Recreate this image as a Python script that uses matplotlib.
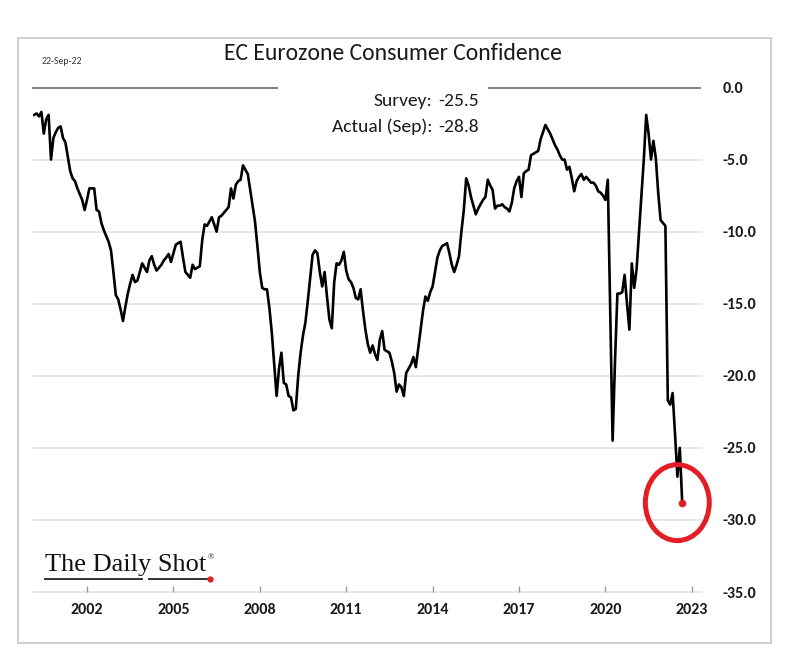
import matplotlib
matplotlib.use("Agg")
import matplotlib.pyplot as plt
from matplotlib.patches import Ellipse, Rectangle
from matplotlib.lines import Line2D
from matplotlib import font_manager
import numpy as np
import pandas as pd

# ---------------- data (monthly, Mar 2000 - Sep 2022) ----------------
start_month = "2000-03-01"
v2000 = [-1.9, -1.8, -2.0, -1.7, -3.2, -2.2, -1.9, -5.0, -3.5, -3.1]
v2001 = [-2.8, -2.7, -3.5, -3.8, -4.8, -5.8, -6.3, -6.5, -7.0, -7.4, -7.8, -8.5]
v2002 = [-7.8, -7.0, -7.0, -7.0, -8.5, -8.6, -9.4, -9.9, -10.3, -10.7, -11.3, -12.8]
v2003 = [-14.4, -14.7, -15.4, -16.2, -15.2, -14.3, -13.6, -13.0, -13.5, -13.4, -12.8, -12.2]
v2004 = [-12.5, -12.8, -12.0, -11.7, -12.3, -12.7, -12.5, -12.3, -12.0, -11.8, -11.55, -12.1]
v2005 = [-11.5, -10.9, -10.8, -10.7, -11.8, -12.8, -13.0, -13.2, -12.3, -12.6, -12.5, -12.4]
v2006 = [-10.6, -9.5, -9.6, -9.3, -9.0, -9.5, -10.0, -9.0, -8.9, -8.7, -8.5, -8.3]
v2007 = [-7.0, -7.7, -6.75, -6.5, -6.4, -5.4, -5.7, -6.0, -7.1, -8.2, -9.3, -11.0]
v2008 = [-12.8, -13.9, -14.0, -14.0, -15.3, -17.0, -19.2, -21.4, -19.5, -18.4, -20.5, -20.6]
v2009 = [-21.4, -21.5, -22.4, -22.3, -20.0, -18.4, -17.2, -16.3, -14.8, -13.2, -11.6, -11.3]
v2010 = [-11.5, -12.8, -13.8, -12.8, -14.5, -16.1, -16.7, -13.5, -12.2, -12.3, -12.0, -11.4]
v2011 = [-12.7, -13.3, -13.5, -13.9, -14.6, -14.7, -14.0, -15.5, -16.8, -17.8, -18.4, -17.9]
v2012 = [-18.5, -18.9, -17.5, -16.9, -18.2, -18.3, -18.4, -19.0, -19.8, -21.1, -20.6, -20.8]
v2013 = [-21.4, -19.8, -19.5, -19.2, -18.7, -19.4, -18.1, -16.8, -15.5, -14.5, -14.8, -14.2]
v2014 = [-13.8, -12.8, -11.8, -11.3, -11.0, -10.9, -10.8, -11.5, -12.3, -12.8, -12.3, -11.7]
v2015 = [-10.0, -8.5, -6.3, -6.8, -7.6, -8.2, -8.8, -8.4, -8.1, -7.8, -7.6, -6.4]
v2016 = [-6.8, -7.1, -8.4, -8.2, -8.2, -8.1, -8.3, -8.4, -8.6, -8.0, -7.0, -6.5]
v2017 = [-6.2, -7.6, -5.95, -5.8, -5.7, -4.7, -4.6, -4.5, -4.4, -3.6, -3.1, -2.6]
v2018 = [-2.9, -3.2, -3.6, -4.0, -4.3, -4.7, -5.0, -5.0, -5.7, -5.5, -6.3, -7.2]
v2019 = [-6.5, -6.2, -6.0, -6.4, -6.2, -6.4, -6.6, -6.6, -6.8, -7.2, -7.3, -7.5]
v2020 = [-7.8, -6.4, -15.5, -24.5, -19.0, -14.3, -14.3, -14.2, -13.0, -15.0, -16.8, -12.2]
v2021 = [-13.9, -12.6, -10.0, -7.5, -5.0, -1.9, -3.2, -5.0, -3.7, -4.9, -7.3, -9.2]
v2022 = [-9.4, -9.6, -21.7, -22.0, -21.2, -24.0, -27.0, -25.0, -28.8]

x_ticks = [2002, 2005, 2008, 2011, 2014, 2017, 2020, 2023]
y_ticks = [0, -5, -10, -15, -20, -25, -30, -35]

title = "EC Eurozone Consumer Confidence"
date_label = "22-Sep-22"
survey_label, survey_value = "Survey:", "-25.5"
actual_label, actual_value = "Actual (Sep):", "-28.8"

values = np.concatenate([v2000, v2001, v2002, v2003, v2004, v2005, v2006, v2007,
                         v2008, v2009, v2010, v2011, v2012, v2013, v2014, v2015,
                         v2016, v2017, v2018, v2019, v2020, v2021, v2022])
dates = pd.date_range(start_month, periods=len(values), freq="MS")
x = np.asarray(dates.year + (dates.month - 1) / 12.0, dtype=float)

# ---------------- fonts ----------------
avail = {f.name for f in font_manager.fontManager.ttflist}
def pick(*names):
    for n in names:
        if n in avail:
            return n
    return "DejaVu Sans"
SANS = pick("Carlito", "Lato", "Open Sans")
SERIF = pick("Liberation Serif", "DejaVu Serif")

W, H = 800, 663
def fx(px):
    return px / W
def fy(py):
    return 1 - py / H

fig = plt.figure(figsize=(W / 100, H / 100), dpi=100)
fig.patch.set_facecolor("white")

ax_l, ax_r, ax_t, ax_b = 33, 702, 87.5, 592
ax = fig.add_axes([fx(ax_l), fy(ax_b), (ax_r - ax_l) / W, (ax_b - ax_t) / H])
ax.set_facecolor("white")

ax.set_xlim(2000.125, 2023.354)
ax.set_ylim(-35, 0)

# gridlines
for yv in y_ticks[1:]:
    ax.axhline(yv, color="#e0e0e0", lw=1.1, zorder=0, clip_on=False)
# interrupted zero line
span = ax_r - ax_l
ax.axhline(0, xmin=0, xmax=(277 - ax_l) / span, color="#808080", lw=1.4, clip_on=False, zorder=1)
ax.axhline(0, xmin=(489 - ax_l) / span, xmax=(700 - ax_l) / span, color="#808080", lw=1.4, clip_on=False, zorder=1)

ax.plot(x, values, color="black", lw=1.9, zorder=3)

# last point highlight
ax.plot(x[-1], values[-1], "o", color="#e31e24", ms=5.5, mec="none", zorder=5)
ax.add_patch(Ellipse((x[-1] - 0.17, values[-1]), width=2.22, height=5.27, fill=False,
                     edgecolor="#e31e24", lw=3.6, zorder=4, clip_on=False))

for s in ax.spines.values():
    s.set_visible(False)

ax.set_xticks(x_ticks)
ax.set_xticklabels([str(t) for t in x_ticks])
ax.tick_params(axis="x", direction="in", length=4, width=1, color="#999999", pad=8,
               labelsize=11.5, labelcolor="#1a1a1a")
ax.yaxis.tick_right()
ax.set_yticks(y_ticks)
ax.set_yticklabels(["%.1f" % abs(v) if v == 0 else "%.1f" % v for v in y_ticks])
ax.tick_params(axis="y", length=0, pad=15, labelsize=11.5, labelcolor="#1a1a1a")
for lab in ax.get_xticklabels() + ax.get_yticklabels():
    lab.set_fontfamily(SANS)
    lab.set_fontweight("bold")

# texts
fig.text(fx(392.5), fy(53), title, ha="center", va="center", fontsize=17,
         family=SANS, color="#1a1a1a")
fig.text(fx(42), fy(62), date_label, ha="left", va="center", fontsize=7,
         family=SANS, color="#333333")
fig.text(fx(432), fy(101), survey_label, ha="right", va="center", fontsize=14, family=SANS, color="#1a1a1a")
fig.text(fx(479), fy(101), survey_value, ha="right", va="center", fontsize=14, family=SANS, color="#1a1a1a")
fig.text(fx(432), fy(127), actual_label, ha="right", va="center", fontsize=14, family=SANS, color="#1a1a1a")
fig.text(fx(479), fy(127), actual_value, ha="right", va="center", fontsize=14, family=SANS, color="#1a1a1a")

# logo
fig.text(fx(45), fy(571), "The Daily Shot", ha="left", va="baseline", fontsize=19,
         family=SERIF, color="#111111")
fig.text(fx(208), fy(557), "\u00ae", ha="left", va="center", fontsize=6, family=SERIF, color="#111111")
fig.add_artist(Line2D([fx(45), fx(142)], [fy(579), fy(579)], color="#222222", lw=1.3))
fig.add_artist(Line2D([fx(149), fx(210)], [fy(579), fy(579)], color="#222222", lw=1.3))
fig.add_artist(Line2D([fx(210)], [fy(579)], marker="o", ms=4.5, color="#e31e24", mec="none"))

# frame
fig.add_artist(Rectangle((fx(18), fy(643)), fx(771) - fx(18), fy(38) - fy(643),
                         transform=fig.transFigure, fill=False, edgecolor="#cccccc", lw=1.3))

fig.savefig("out.png", dpi=100, facecolor="white")
